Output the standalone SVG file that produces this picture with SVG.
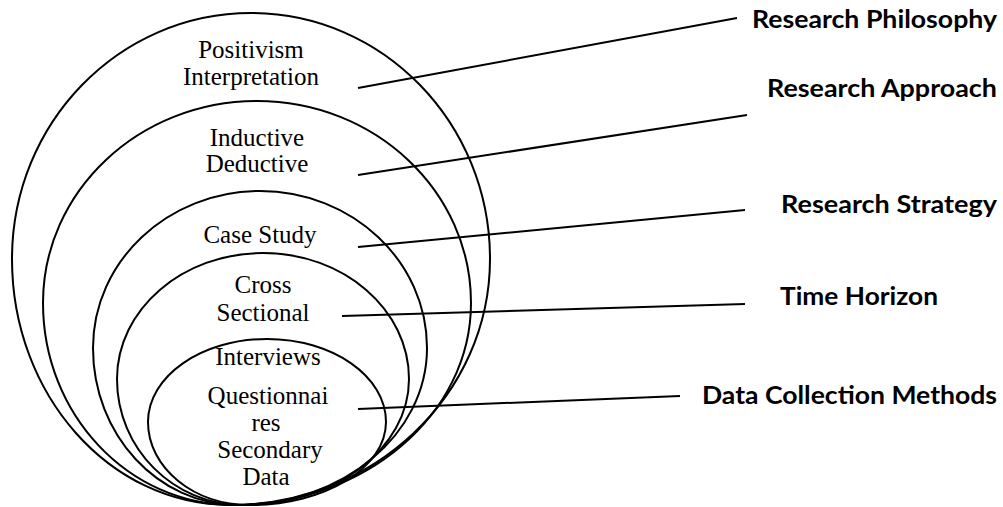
<svg xmlns="http://www.w3.org/2000/svg" width="1003" height="507" viewBox="0 0 1003 507">
  <style>
    .ring { fill: none; stroke: #000; stroke-width: 2; }
    .lbl { font-family: "Liberation Serif", "Times New Roman", serif; font-size: 25px; fill: #000; text-anchor: middle; }
    .layer { font-family: Lato, "Open Sans", sans-serif; font-weight: bold; font-size: 24px; fill: #000; }
    .lead { stroke: #000; stroke-width: 2; fill: none; }
  </style>
  <rect width="1003" height="507" fill="#fff"/>

  <!-- nested layers, outermost first; each ring is an egg shape whose low point sits a little left of centre -->
  <g id="layer-philosophy">
    <path class="ring" d="M251,13 C383,13 490,123.1 490,259 C490,394.9 373.6,505 230,505 C109.6,505 12,394.9 12,259 C12,123.1 119,13 251,13 Z"/>
    <text class="lbl" x="251" y="58">Positivism</text>
    <text class="lbl" x="251" y="85">Interpretation</text>
  </g>
  <g id="layer-approach">
    <path class="ring" d="M257,101 C375.2,101 471,191.4 471,303 C471,414.6 364.9,505 234,505 C128.5,505 43,414.6 43,303 C43,191.4 138.8,101 257,101 Z"/>
    <text class="lbl" x="257" y="146">Inductive</text>
    <text class="lbl" x="257" y="172">Deductive</text>
  </g>
  <g id="layer-strategy">
    <path class="ring" d="M260,191 C352.2,191 427,261.3 427,348 C427,434.7 342.4,505 238,505 C157.9,505 93,434.7 93,348 C93,261.3 167.8,191 260,191 Z"/>
    <text class="lbl" x="260" y="243">Case Study</text>
  </g>
  <g id="layer-horizon">
    <path class="ring" d="M263,253 C343.6,253 409,309.4 409,379 C409,448.6 334.7,505 243,505 C173.4,505 117,448.6 117,379 C117,309.4 182.4,253 263,253 Z"/>
    <text class="lbl" x="263" y="293">Cross</text>
    <text class="lbl" x="263" y="321">Sectional</text>
  </g>
  <g id="layer-methods">
    <path class="ring" d="M267,339 C332.7,339 386,376.2 386,422 C386,467.8 325.1,505 250,505 C193.7,505 148,467.8 148,422 C148,376.2 201.3,339 267,339 Z"/>
    <text class="lbl" x="268" y="365">Interviews</text>
    <text class="lbl" x="268" y="404">Questionnai</text>
    <text class="lbl" x="266" y="431">res</text>
    <text class="lbl" x="270" y="458">Secondary</text>
    <text class="lbl" x="266" y="485">Data</text>
  </g>

  <!-- leader lines to the layer names -->
  <g id="connectors">
    <line class="lead" x1="358" y1="88" x2="737" y2="18"/>
    <line class="lead" x1="358" y1="175" x2="747" y2="115"/>
    <line class="lead" x1="358" y1="247" x2="745" y2="210"/>
    <line class="lead" x1="342" y1="316" x2="745" y2="304"/>
    <line class="lead" x1="358" y1="409" x2="680" y2="396"/>
  </g>

  <g id="name-philosophy"><text class="layer" x="752" y="28" textLength="245" lengthAdjust="spacingAndGlyphs">Research Philosophy</text></g>
  <g id="name-approach"><text class="layer" x="767" y="97" textLength="230" lengthAdjust="spacingAndGlyphs">Research Approach</text></g>
  <g id="name-strategy"><text class="layer" x="781" y="213" textLength="216" lengthAdjust="spacingAndGlyphs">Research Strategy</text></g>
  <g id="name-horizon"><text class="layer" x="780" y="305" textLength="158" lengthAdjust="spacingAndGlyphs">Time Horizon</text></g>
  <g id="name-methods"><text class="layer" x="702" y="404" textLength="295" lengthAdjust="spacingAndGlyphs">Data Collection Methods</text></g>
</svg>
